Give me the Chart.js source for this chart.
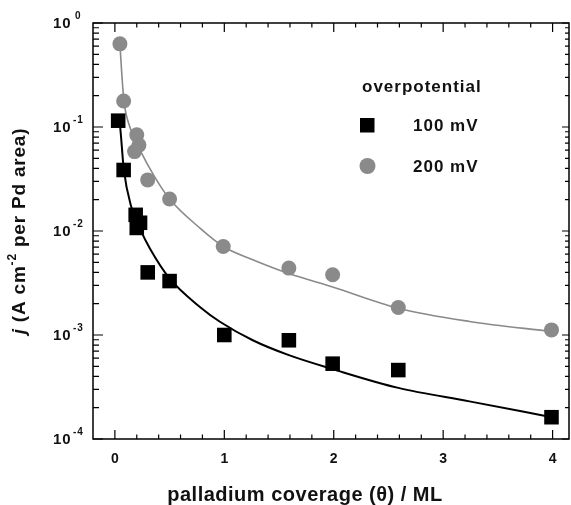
<!DOCTYPE html>
<html>
<head>
<meta charset="utf-8">
<script src="https://cdn.jsdelivr.net/npm/chart.js@4.4.0/dist/chart.umd.min.js"></script>
<style>
  html, body { margin: 0; padding: 0; background: #fff; }
  canvas { display: block; }
</style>
</head>
<body>
<canvas id="grafico" width="571" height="505"></canvas>
<script>
const cobertura100 = [0.03, 0.08, 0.19, 0.20, 0.23, 0.30, 0.50, 1.00, 1.59, 1.99, 2.59, 3.99];
const corrente100  = [0.115, 0.0386, 0.0143, 0.0107, 0.0120, 0.0040, 0.0033, 0.00100, 0.00089, 0.00053, 0.00046, 0.000162];

const cobertura200 = [0.046, 0.08, 0.20, 0.22, 0.18, 0.30, 0.50, 0.99, 1.59, 1.99, 2.59, 3.99];
const corrente200  = [0.63, 0.178, 0.084, 0.067, 0.058, 0.031, 0.0203, 0.0071, 0.0044, 0.0038, 0.00184, 0.00112];

// linhas de ajuste (pontos lidos ao longo das curvas)
const ajusteX100 = [0.035, 0.046, 0.082, 0.15, 0.23, 0.32, 0.50, 0.78, 0.96, 1.26, 1.59, 1.99, 2.59, 3.24, 3.97];
const ajusteY100 = [0.12, 0.105, 0.0386, 0.017, 0.0105, 0.0068, 0.0035, 0.00185, 0.00134, 0.00089, 0.00064, 0.00047, 0.00031, 0.00023, 0.000164];

const ajusteX200 = [0.046, 0.061, 0.082, 0.137, 0.23, 0.365, 0.50, 0.78, 0.99, 1.26, 1.59, 1.99, 2.59, 3.24, 3.99];
const ajusteY200 = [0.63, 0.35, 0.18, 0.10, 0.060, 0.033, 0.0203, 0.0106, 0.0071, 0.0053, 0.0039, 0.0029, 0.00181, 0.00135, 0.00108];

const ticksX = [0, 1, 2, 3, 4];
const decadas = [0, -1, -2, -3, -4];
const tituloX = 'palladium coverage (\u03b8) / ML';
const legendaTitulo = 'overpotential';
const legendaSeries = ['100 mV', '200 mV'];

const CINZA = '#8a8a8a';
const FONTE = '"Liberation Sans", Arial, sans-serif';

const juntar = (xs, ys) => xs.map((x, i) => ({ x: x, y: ys[i] }));

// desenha moldura, ticks internos, rotulos do eixo y, titulos e a legenda
const pluginMoldura = {
  id: 'moldura',
  afterDraw(chart) {
    const ctx = chart.ctx;
    const a = chart.chartArea;
    const sx = chart.scales.x;
    const sy = chart.scales.y;
    ctx.save();
    ctx.strokeStyle = '#000';
    ctx.lineWidth = 1.5;
    ctx.strokeRect(a.left, a.top, a.right - a.left, a.bottom - a.top);

    ctx.lineWidth = 1.2;
    ctx.beginPath();
    // ticks do x (baixo e cima)
    for (let k = 0; k <= 20; k++) {
      const px = sx.getPixelForValue(k * 0.2);
      const len = (k % 5 === 0) ? 9 : 4.5;
      ctx.moveTo(px, a.bottom); ctx.lineTo(px, a.bottom - len);
      ctx.moveTo(px, a.top); ctx.lineTo(px, a.top + len);
    }
    // ticks do y (esquerda e direita)
    decadas.forEach(d => {
      const py = sy.getPixelForValue(Math.pow(10, d));
      ctx.moveTo(a.left, py); ctx.lineTo(a.left + 10, py);
      ctx.moveTo(a.right, py); ctx.lineTo(a.right - 7, py);
    });
    for (let d = -4; d < 0; d++) {
      for (let m = 2; m <= 9; m++) {
        const py = sy.getPixelForValue(m * Math.pow(10, d));
        ctx.moveTo(a.left, py); ctx.lineTo(a.left + 6, py);
        ctx.moveTo(a.right, py); ctx.lineTo(a.right - 4, py);
      }
    }
    ctx.stroke();

    // rotulos 10^n
    ctx.fillStyle = '#111';
    ctx.textBaseline = 'middle';
    ctx.textAlign = 'left';
    ctx.letterSpacing = '1px';
    decadas.forEach(d => {
      const py = sy.getPixelForValue(Math.pow(10, d));
      ctx.font = 'bold 15px ' + FONTE;
      ctx.fillText('10', 53, py + 0.5);
      ctx.font = 'bold 10px ' + FONTE;
      ctx.fillText(d === 0 ? '0' : '-' + (-d), d === 0 ? 75 : 73, py - 7);
    });

    // titulo do eixo x
    ctx.save();
    ctx.textAlign = 'center';
    ctx.letterSpacing = '0.5px';
    ctx.font = 'bold 20px ' + FONTE;
    ctx.fillText(tituloX, 305, 495);
    ctx.restore();

    // titulo do eixo y
    ctx.save();
    ctx.translate(20, (a.top + a.bottom) / 2);
    ctx.rotate(-Math.PI / 2);
    ctx.letterSpacing = '0.8px';
    const partes = [
      { t: 'j', f: 'italic bold 19px ', dy: 0 },
      { t: ' (A cm', f: 'bold 19px ', dy: 0 },
      { t: '-2', f: 'bold 12px ', dy: -7 },
      { t: ' per Pd area)', f: 'bold 19px ', dy: 0 }
    ];
    let total = 0;
    partes.forEach(p => { ctx.font = p.f + FONTE; total += ctx.measureText(p.t).width; });
    let cx = -total / 2;
    partes.forEach(p => {
      ctx.font = p.f + FONTE;
      ctx.fillText(p.t, cx, p.dy);
      cx += ctx.measureText(p.t).width;
    });
    ctx.restore();

    // legenda
    ctx.letterSpacing = '1px';
    ctx.font = 'bold 17px ' + FONTE;
    ctx.fillText(legendaTitulo, 362, 87);
    ctx.fillStyle = '#000';
    ctx.fillRect(360, 118, 14.5, 14.5);
    ctx.fillStyle = '#111';
    ctx.fillText(legendaSeries[0], 413, 126);
    ctx.fillStyle = CINZA;
    ctx.beginPath();
    ctx.arc(367.5, 166, 8, 0, Math.PI * 2);
    ctx.fill();
    ctx.fillStyle = '#111';
    ctx.fillText(legendaSeries[1], 413, 167);
    ctx.restore();
  }
};

new Chart(document.getElementById('grafico'), {
  type: 'scatter',
  data: {
    datasets: [
      {
        label: '100 mV',
        data: juntar(cobertura100, corrente100),
        pointStyle: 'rect',
        pointRadius: 10.3,
        backgroundColor: '#000',
        borderWidth: 0,
        showLine: false,
        order: 1
      },
      {
        label: '200 mV',
        data: juntar(cobertura200, corrente200),
        pointStyle: 'circle',
        pointRadius: 7.5,
        backgroundColor: CINZA,
        borderWidth: 0,
        showLine: false,
        order: 2
      },
      {
        label: 'ajuste 100 mV',
        data: juntar(ajusteX100, ajusteY100),
        showLine: true,
        pointRadius: 0,
        borderColor: '#000',
        borderWidth: 2,
        cubicInterpolationMode: 'monotone',
        order: 3
      },
      {
        label: 'ajuste 200 mV',
        data: juntar(ajusteX200, ajusteY200),
        showLine: true,
        pointRadius: 0,
        borderColor: CINZA,
        borderWidth: 1.6,
        cubicInterpolationMode: 'monotone',
        order: 4
      }
    ]
  },
  options: {
    responsive: false,
    devicePixelRatio: 1,
    animation: false,
    layout: { autoPadding: false, padding: { left: 93, right: 2, top: 23, bottom: 0 } },
    plugins: { legend: { display: false }, tooltip: { enabled: false } },
    scales: {
      x: {
        type: 'linear',
        position: 'bottom',
        min: -0.2,
        max: 4.15,
        afterBuildTicks: (escala) => { escala.ticks = ticksX.map(v => ({ value: v })); },
        afterFit: (escala) => {
          escala.height = 66;
          escala.paddingLeft = 0;
          escala.paddingRight = 0;
        },
        grid: { display: false, drawTicks: false },
        border: { display: false },
        ticks: {
          padding: 12,
          color: '#111',
          font: { family: FONTE, size: 14, weight: 'bold' },
          callback: (v) => String(v)
        }
      },
      y: {
        type: 'logarithmic',
        display: false,
        min: 1e-4,
        max: 1
      }
    }
  },
  plugins: [pluginMoldura]
});
</script>
</body>
</html>
